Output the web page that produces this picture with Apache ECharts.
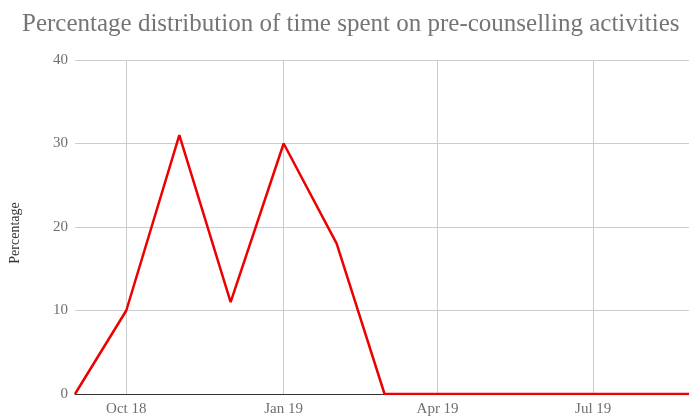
<!DOCTYPE html>
<html>
<head>
<meta charset="utf-8">
<script src="https://cdn.jsdelivr.net/npm/echarts@6/dist/echarts.min.js"></script>
<style>
  html, body { margin: 0; padding: 0; background: #fff; }
  #main { width: 689px; height: 417px; }
</style>
</head>
<body>
<div id="main"></div>
<script>
// monthly points, Sep 2018 .. Sep 2019
let months = ['2018-09-01', '2018-10-01', '2018-11-01', '2018-12-01', '2019-01-01', '2019-02-01',
    '2019-03-01', '2019-04-01', '2019-05-01', '2019-06-01', '2019-07-01', '2019-08-01', '2019-09-01'];
let percentage = [0, 10, 31, 11, 30, 18, 0, 0, 0, 0, 0, 0, 0];
// quarterly tick marks shown on the x axis
let tickMonths = ['2018-10-01', '2019-01-01', '2019-04-01', '2019-07-01'];
let monthNames = ['Jan', 'Feb', 'Mar', 'Apr', 'May', 'Jun', 'Jul', 'Aug', 'Sep', 'Oct', 'Nov', 'Dec'];

function toTime(s) {
    let p = s.split('-');
    return new Date(+p[0], +p[1] - 1, +p[2]).getTime();
}

function makeChart() {
    let myChart = echarts.init(document.getElementById('main'));
    let serif = '"Liberation Serif", "DejaVu Serif", serif';
    let ticks = tickMonths.map(toTime);

    let option = {
        backgroundColor: '#fff',
        animation: false,
        title: {
            text: 'Percentage distribution of time spent on pre-counselling activities',
            left: 17,
            top: 7,
            textStyle: {
                fontFamily: serif,
                fontSize: 25,
                fontWeight: 'normal',
                color: '#757575'
            }
        },
        grid: {
            left: 74,
            top: 60,
            right: 0,
            bottom: 21
        },
        xAxis: {
            // timestamps on a plain value axis so the quarter ticks can be picked
            type: 'value',
            min: toTime('2018-09-01'),
            max: toTime('2019-08-26'), // chart is cut off at the right edge
            axisLine: { lineStyle: { color: '#333', width: 1 } },
            axisTick: { show: false, customValues: ticks },
            axisLabel: {
                customValues: ticks,
                fontFamily: serif,
                fontSize: 15,
                color: '#6f6f6f',
                margin: 8,
                formatter: function (v) {
                    let d = new Date(v);
                    return monthNames[d.getMonth()] + ' ' + String(d.getFullYear()).slice(2);
                }
            },
            splitLine: { show: true, lineStyle: { color: '#ccc', width: 1 } }
        },
        yAxis: {
            type: 'value',
            min: 0,
            max: 40,
            interval: 10,
            name: 'Percentage',
            nameLocation: 'middle',
            nameGap: 53,
            nameTextStyle: { fontFamily: serif, fontSize: 14, color: '#333', padding: [0, 12, 0, 0] },
            axisLine: { show: false },
            axisTick: { show: false },
            axisLabel: { fontFamily: serif, fontSize: 15, color: '#6f6f6f', margin: 7 },
            splitLine: { lineStyle: { color: '#ccc', width: 1 } }
        },
        series: [
            {
                type: 'line',
                data: months.map(function (m, i) { return [toTime(m), percentage[i]]; }),
                showSymbol: false,
                clip: true,
                lineStyle: { color: '#ee0000', width: 2.5 },
                itemStyle: { color: '#ee0000' }
            }
        ]
    };

    myChart.setOption(option);
}

makeChart();
</script>
</body>
</html>
